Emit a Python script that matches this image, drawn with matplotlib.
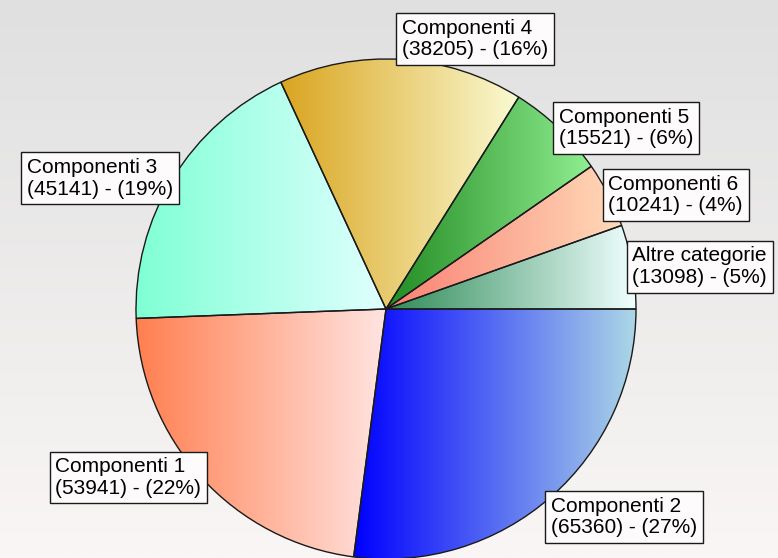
import numpy as np
import matplotlib
matplotlib.use('Agg')
import matplotlib.pyplot as plt
from matplotlib.colors import LinearSegmentedColormap

# dati (ordine orario partendo da ore 3)
categorie = ['Componenti 2', 'Componenti 1', 'Componenti 3', 'Componenti 4',
             'Componenti 5', 'Componenti 6', 'Altre categorie']
valori = [65360, 53941, 45141, 38205, 15521, 10241, 13098]

# sfumature orizzontali di ogni spicchio (sinistra -> destra)
colori_inizio = ['#0000ff', '#ff7f50', '#7fffd4', '#daa520', '#228b22', '#fa8072', '#2e8b57']
colori_fine = ['#add8e6', '#ffe4e1', '#e0ffff', '#fafad2', '#90ee90', '#ffdab9', '#f0ffff']

# allineamento delle etichette
allineamenti = [('left', 'top'), ('right', 'center'), ('right', 'center'), ('left', 'bottom'),
                ('left', 'center'), ('left', 'center'), ('left', 'center')]

plt.rcParams['font.family'] = ['Liberation Sans', 'DejaVu Sans']

fig = plt.figure(figsize=(7.78, 5.58), dpi=100)
ax = fig.add_axes([0, 0, 1, 1])

xlim = (-386 / 250, (778 - 386) / 250)
ylim = ((309 - 558) / 250, 309 / 250)

# sfondo sfumato (grigio in alto, quasi bianco in basso)
sfondo = LinearSegmentedColormap.from_list('sfondo', ['#e0e0e0', '#f9f6f5'])
ax.imshow(np.linspace(0, 1, 256).reshape(-1, 1), cmap=sfondo, aspect='auto',
          extent=(xlim[0], xlim[1], ylim[0], ylim[1]), zorder=0)

spicchi, _ = ax.pie(valori, startangle=0, counterclock=False, radius=1,
                    wedgeprops=dict(edgecolor='#1a1a1a', linewidth=1.0))

totale = sum(valori)
grad = np.linspace(0, 1, 256).reshape(1, -1)
for w, c0, c1 in zip(spicchi, colori_inizio, colori_fine):
    bb = w.get_path().get_extents()
    cmap = LinearSegmentedColormap.from_list('g', [c0, c1])
    im = ax.imshow(grad, cmap=cmap, extent=(bb.x0, bb.x1, bb.y0, bb.y1),
                   aspect='auto', zorder=1, interpolation='bilinear')
    im.set_clip_path(w)
    w.set_facecolor('none')
    w.set_zorder(2)

for w, nome, v, (ha, va) in zip(spicchi, categorie, valori, allineamenti):
    ang = np.deg2rad((w.theta1 + w.theta2) / 2)
    pct = round(v / totale * 100)
    ax.text(np.cos(ang), np.sin(ang), f'{nome}\n({v}) - ({pct}%)',
            ha=ha, va=va, multialignment='left', fontsize=15, linespacing=1.15,
            zorder=5,
            bbox=dict(boxstyle='square,pad=0.28', facecolor='#fdfbfb',
                      edgecolor='#1a1a1a', linewidth=1.0))

ax.set_xlim(*xlim)
ax.set_ylim(*ylim)
ax.set_aspect('equal')
ax.axis('off')

fig.savefig('out.png', dpi=100)
